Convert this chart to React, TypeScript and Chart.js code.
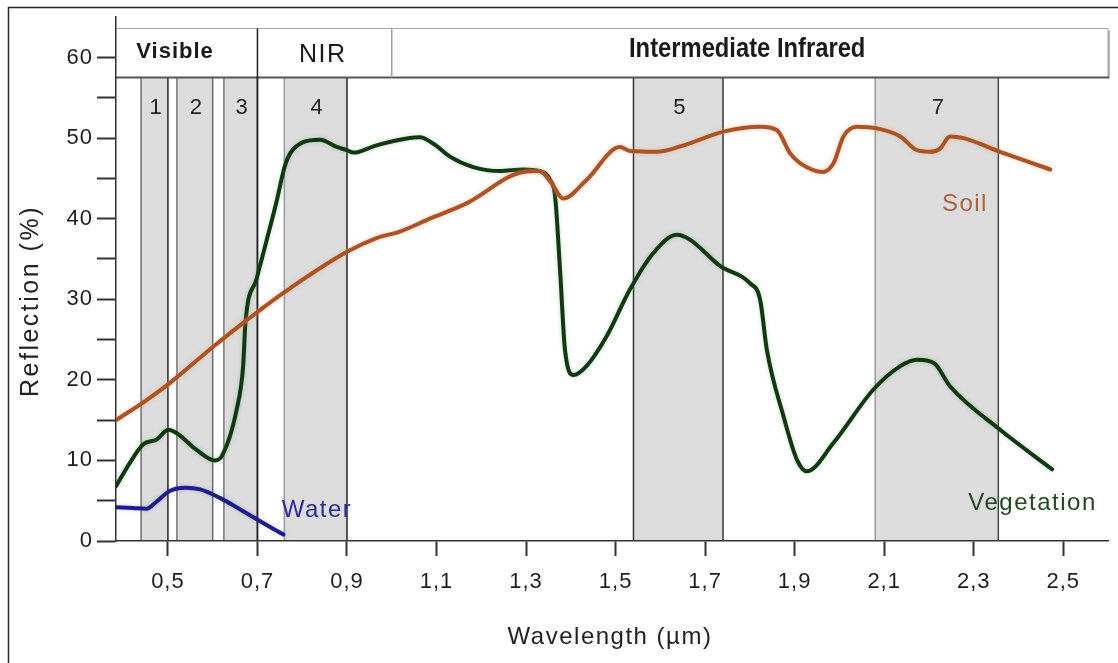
import React, { useEffect, useRef } from 'react';
import { Chart, registerables } from 'chart.js';

Chart.register(...registerables);

// ---------------- data ----------------
const soilX = [0.384, 0.45, 0.504, 0.601, 0.676, 0.758, 0.9, 0.966, 1.018, 1.085, 1.167, 1.294, 1.33, 1.357, 1.383, 1.435, 1.51, 1.532, 1.592, 1.652, 1.741, 1.823, 1.86, 1.89, 1.912, 1.964, 1.987, 2.009, 2.039, 2.084, 2.136, 2.173, 2.203, 2.225, 2.247, 2.277, 2.359, 2.471];
const soilY = [15.0, 17.4, 19.6, 24.1, 27.4, 30.8, 35.9, 37.6, 38.4, 40.0, 41.9, 45.8, 45.9, 44.4, 42.5, 44.8, 48.9, 48.4, 48.3, 49.1, 50.8, 51.4, 51.0, 48.1, 46.9, 45.8, 46.9, 50.2, 51.4, 51.2, 50.2, 48.5, 48.3, 48.7, 50.2, 50.0, 48.3, 46.1];

const vegX = [0.384, 0.415, 0.445, 0.475, 0.501, 0.519, 0.564, 0.605, 0.62, 0.6535, 0.668, 0.673, 0.698, 0.72, 0.743, 0.761, 0.773, 0.802, 0.84, 0.877, 0.9, 0.914, 0.966, 1.04, 1.063, 1.093, 1.13, 1.182, 1.242, 1.294, 1.331, 1.354, 1.365, 1.376, 1.387, 1.406, 1.435, 1.48, 1.532, 1.584, 1.637, 1.666, 1.734, 1.8, 1.823, 1.838, 1.875, 1.905, 1.927, 1.987, 2.076, 2.136, 2.173, 2.211, 2.247, 2.359, 2.475];
const vegY = [6.8, 9.7, 12.0, 12.6, 13.8, 13.4, 11.3, 10.0, 10.5, 16.3, 21.7, 27.0, 32.5, 37.2, 42.2, 46.5, 48.1, 49.5, 49.8, 48.9, 48.5, 48.2, 49.1, 50.0, 50.1, 49.3, 47.7, 46.4, 45.9, 46.1, 45.9, 44.8, 42.7, 33.6, 23.7, 20.6, 21.7, 25.4, 31.2, 35.7, 38.0, 37.4, 34.1, 32.0, 29.9, 23.7, 15.5, 10.1, 8.65, 12.2, 18.8, 21.7, 22.5, 22.1, 19.2, 13.8, 8.9];

const waterX = [0.384, 0.422, 0.452, 0.475, 0.504, 0.539, 0.572, 0.616, 0.668, 0.706, 0.758];
const waterY = [4.2, 4.1, 4.0, 4.9, 6.2, 6.6, 6.4, 5.35, 3.7, 2.45, 0.8];

const seriesNames = ['Soil', 'Vegetation', 'Water'];

const xTickValues = [0.5, 0.7, 0.9, 1.1, 1.3, 1.5, 1.7, 1.9, 2.1, 2.3, 2.5];
const xTickLabels = ['0,5', '0,7', '0,9', '1,1', '1,3', '1,5', '1,7', '1,9', '2,1', '2,3', '2,5'];
const yMajorTicks = [0, 10, 20, 30, 40, 50, 60];
const yMinorTicks = [5, 15, 25, 35, 45, 55];

const bandNames = ['1', '2', '3', '4', '5', '7'];
const bandStart = [0.44, 0.52, 0.625, 0.76, 1.54, 2.08];
const bandEnd = [0.5, 0.6, 0.7, 0.9, 1.74, 2.355];

const regionNames = ['Visible', 'NIR', 'Intermediate Infrared'];
const regionStart = [0.384, 0.7, 1.0];
const regionEnd = [0.7, 1.0, 2.6];

const xTitle = 'Wavelength (µm)';
const yTitle = 'Reflection (%)';

// ---------------- layout / style constants ----------------
const X_MIN = 0.384;
const X_MAX = 2.6;
const Y_MIN = 0;
const Y_MAX = 65;
const HEADER_TOP = 63.6;
const HEADER_BOTTOM = 57.6;
const FONT = '"Liberation Sans", Arial, Helvetica, sans-serif';

const bandEdgeColors = [
  ['#6e6e6e', '#222222'],
  ['#777777', '#6a6a6a'],
  ['#777777', '#222222'],
  ['#9a9a9a', '#222222'],
  ['#333333', '#333333'],
  ['#9a9a9a', '#444444'],
];

const seriesColors = ['#ad5226', '#123812', '#1c1c8c'];
const seriesGlow = ['rgba(245,170,110,0.55)', 'rgba(90,160,90,0.35)', 'rgba(90,90,200,0.3)'];
const seriesLabelColors = ['#b0603a', '#1f4a1f', '#2a2a9a'];
// label anchor (data coords) for each series label
const seriesLabelAt = [
  [2.229, 41.8],
  [2.288, 4.7],
  [0.754, 3.8],
];
const regionLabelY = [60.75, 60.3, 61.0];
const regionLabelX = [0.516, 0.846, 1.794];
const bandLabelY = 53.7;

function drawText(
  ctx: CanvasRenderingContext2D,
  text: string,
  x: number,
  y: number,
  font: string,
  color: string,
  align: CanvasTextAlign = 'center',
  spacing = '0px',
  scaleX = 1,
  rotate = 0
) {
  ctx.save();
  ctx.font = font;
  ctx.fillStyle = color;
  ctx.textAlign = align;
  ctx.textBaseline = 'middle';
  (ctx as any).letterSpacing = spacing;
  ctx.translate(x, y);
  if (rotate) ctx.rotate(rotate);
  ctx.scale(scaleX, 1);
  ctx.fillText(text, 0, 0);
  ctx.restore();
}

const decorPlugin = {
  id: 'decor',
  beforeDraw(chart: any) {
    const { ctx, chartArea, scales } = chart;
    const xs = scales.x;
    const ys = scales.y;
    const y0 = ys.getPixelForValue(0);
    const hTop = Math.round(ys.getPixelForValue(HEADER_TOP)) + 0.5;
    const hBot = Math.round(ys.getPixelForValue(HEADER_BOTTOM)) + 0.5;
    ctx.save();
    (ctx as any).letterSpacing = '0px';

    // spectral bands
    ctx.fillStyle = '#dcdcdc';
    bandStart.forEach((s, i) => {
      const a = xs.getPixelForValue(s);
      const b = xs.getPixelForValue(bandEnd[i]);
      ctx.fillRect(a, hBot, b - a, y0 - hBot);
    });
    ctx.lineWidth = 1.5;
    bandStart.forEach((s, i) => {
      const edges: [number, string][] = [
        [s, bandEdgeColors[i][0]],
        [bandEnd[i], bandEdgeColors[i][1]],
      ];
      edges.forEach(([v, c]) => {
        const px = xs.getPixelForValue(v);
        ctx.strokeStyle = c;
        ctx.beginPath();
        ctx.moveTo(px, hBot);
        ctx.lineTo(px, y0);
        ctx.stroke();
      });
    });

    // header box
    const xl = chartArea.left;
    const xr = xs.getPixelForValue(regionEnd[regionEnd.length - 1]);
    ctx.fillStyle = '#ffffff';
    ctx.fillRect(xl, hTop, xr - xl, hBot - hTop);
    ctx.strokeStyle = '#b5b5b5';
    ctx.lineWidth = 2;
    ctx.beginPath();
    ctx.moveTo(xr + 1, hTop + 2);
    ctx.lineTo(xr + 1, hBot + 1);
    ctx.stroke();
    ctx.strokeStyle = '#a8a8a8';
    ctx.lineWidth = 1;
    ctx.beginPath();
    ctx.moveTo(xl, hTop);
    ctx.lineTo(xr, hTop);
    ctx.lineTo(xr, hBot);
    ctx.stroke();
    ctx.strokeStyle = '#555555';
    ctx.lineWidth = 2;
    ctx.beginPath();
    ctx.moveTo(xl, hBot);
    ctx.lineTo(xr + 1, hBot);
    ctx.stroke();

    // region dividers
    regionStart.forEach((s, i) => {
      if (i === 0) return;
      const px = xs.getPixelForValue(s);
      ctx.beginPath();
      if (i === 1) {
        ctx.strokeStyle = '#1e1e1e';
        ctx.lineWidth = 1.5;
        ctx.moveTo(px, hTop);
        ctx.lineTo(px, y0);
      } else {
        ctx.strokeStyle = '#a0a0a0';
        ctx.lineWidth = 1.5;
        ctx.moveTo(px, hTop);
        ctx.lineTo(px, hBot);
      }
      ctx.stroke();
    });
    ctx.restore();
    (ctx as any).letterSpacing = '1px';
  },
  beforeDatasetDraw(chart: any, args: any) {
    const ctx = chart.ctx;
    ctx.shadowColor = seriesGlow[args.index] || 'transparent';
    ctx.shadowBlur = 4;
    ctx.shadowOffsetX = 0;
    ctx.shadowOffsetY = 0;
  },
  afterDatasetDraw(chart: any) {
    const ctx = chart.ctx;
    ctx.shadowColor = 'transparent';
    ctx.shadowBlur = 0;
  },
  afterDatasetsDraw(chart: any) {
    const { ctx, chartArea, scales } = chart;
    const xs = scales.x;
    const ys = scales.y;
    ctx.shadowColor = 'transparent';
    ctx.shadowBlur = 0;

    bandNames.forEach((n, i) => {
      const cx = (xs.getPixelForValue(bandStart[i]) + xs.getPixelForValue(bandEnd[i])) / 2;
      drawText(ctx, n, cx + 1, ys.getPixelForValue(bandLabelY), `22px ${FONT}`, '#222222');
    });

    regionNames.forEach((n, i) => {
      const px = xs.getPixelForValue(regionLabelX[i]);
      const py = ys.getPixelForValue(regionLabelY[i]);
      if (i === 0) drawText(ctx, n, px, py, `bold 22px ${FONT}`, '#1a1a1a', 'center', '1px');
      else if (i === 1) drawText(ctx, n, px, py, `25px ${FONT}`, '#1a1a1a', 'center', '1.5px');
      else drawText(ctx, n, px, py, `bold 27px ${FONT}`, '#1a1a1a', 'center', '0px', 0.88);
    });

    seriesNames.forEach((n, i) => {
      const [vx, vy] = seriesLabelAt[i];
      drawText(ctx, n, xs.getPixelForValue(vx), ys.getPixelForValue(vy), `24px ${FONT}`, seriesLabelColors[i], 'left', '1.5px');
    });

    drawText(ctx, xTitle, (chartArea.left + chartArea.right) / 2 - 2, 637, `24px ${FONT}`, '#222222', 'center', '1.5px');
    drawText(ctx, yTitle, 31, 301, `25px ${FONT}`, '#222222', 'center', '2.5px', 1, -Math.PI / 2);
  },
  afterDraw(chart: any) {
    const { ctx, width, height } = chart;
    ctx.save();
    ctx.strokeStyle = '#2a2a2a';
    ctx.lineWidth = 1.5;
    ctx.beginPath();
    ctx.moveTo(8.5, height);
    ctx.lineTo(8.5, 7.5);
    ctx.lineTo(width, 7.5);
    ctx.stroke();
    ctx.restore();
  },
};

function toPoints(xs: number[], ys: number[]) {
  return xs.map((x, i) => ({ x, y: ys[i] }));
}

export default function App() {
  const canvasRef = useRef<HTMLCanvasElement | null>(null);

  useEffect(() => {
    const canvas = canvasRef.current;
    if (!canvas) return;
    Chart.defaults.font.family = FONT;
    const seriesData = [toPoints(soilX, soilY), toPoints(vegX, vegY), toPoints(waterX, waterY)];
    const chart = new Chart(canvas, {
      type: 'line',
      data: {
        datasets: seriesNames.map((name, i) => ({
          label: name,
          data: seriesData[i],
          borderColor: seriesColors[i],
          backgroundColor: seriesColors[i],
          borderWidth: 4,
          pointRadius: 0,
          pointHoverRadius: 0,
          fill: false,
          cubicInterpolationMode: 'monotone',
          borderCapStyle: 'round',
          borderJoinStyle: 'round',
        })),
      },
      options: {
        animation: false,
        responsive: false,
        events: [],
        layout: { padding: { top: 16, right: 10, bottom: 0, left: 0 } },
        plugins: {
          legend: { display: false },
          tooltip: { enabled: false },
          title: { display: false },
        },
        scales: {
          x: {
            type: 'linear',
            min: X_MIN,
            max: X_MAX,
            afterBuildTicks: (s: any) => {
              s.ticks = xTickValues.map((v) => ({ value: v }));
            },
            afterFit: (s: any) => {
              s.height = 122;
            },
            ticks: {
              autoSkip: false,
              maxRotation: 0,
              padding: 13,
              color: '#1e1e1e',
              font: { size: 22 },
              callback: (v: any) => {
                const idx = xTickValues.findIndex((t) => Math.abs(t - Number(v)) < 1e-6);
                return idx >= 0 ? xTickLabels[idx] : '';
              },
            },
            grid: {
              drawOnChartArea: false,
              drawTicks: true,
              tickLength: 15,
              tickColor: '#333333',
              tickWidth: 2,
            },
            border: { display: true, color: '#333333', width: 1.5 },
            title: { display: false },
          },
          y: {
            type: 'linear',
            min: Y_MIN,
            max: Y_MAX,
            afterBuildTicks: (s: any) => {
              s.ticks = [...yMajorTicks, ...yMinorTicks].sort((a, b) => a - b).map((v) => ({ value: v }));
            },
            afterFit: (s: any) => {
              s.width = 116;
            },
            ticks: {
              autoSkip: false,
              padding: 4,
              color: '#1e1e1e',
              font: { size: 22 },
              callback: (v: any) => (yMajorTicks.includes(Number(v)) ? String(v) : ''),
            },
            grid: {
              drawOnChartArea: false,
              drawTicks: true,
              tickLength: 19,
              tickColor: '#333333',
              tickWidth: 2,
            },
            border: { display: true, color: '#333333', width: 1.5 },
            title: { display: false },
          },
        },
      },
      plugins: [decorPlugin],
    } as any);
    return () => chart.destroy();
  }, []);

  return (
    <div style={{ position: 'fixed', left: 0, top: 0, width: 1118, height: 663, background: '#ffffff' }}>
      <canvas ref={canvasRef} width={1118} height={663} style={{ display: 'block', width: 1118, height: 663 }} />
    </div>
  );
}
